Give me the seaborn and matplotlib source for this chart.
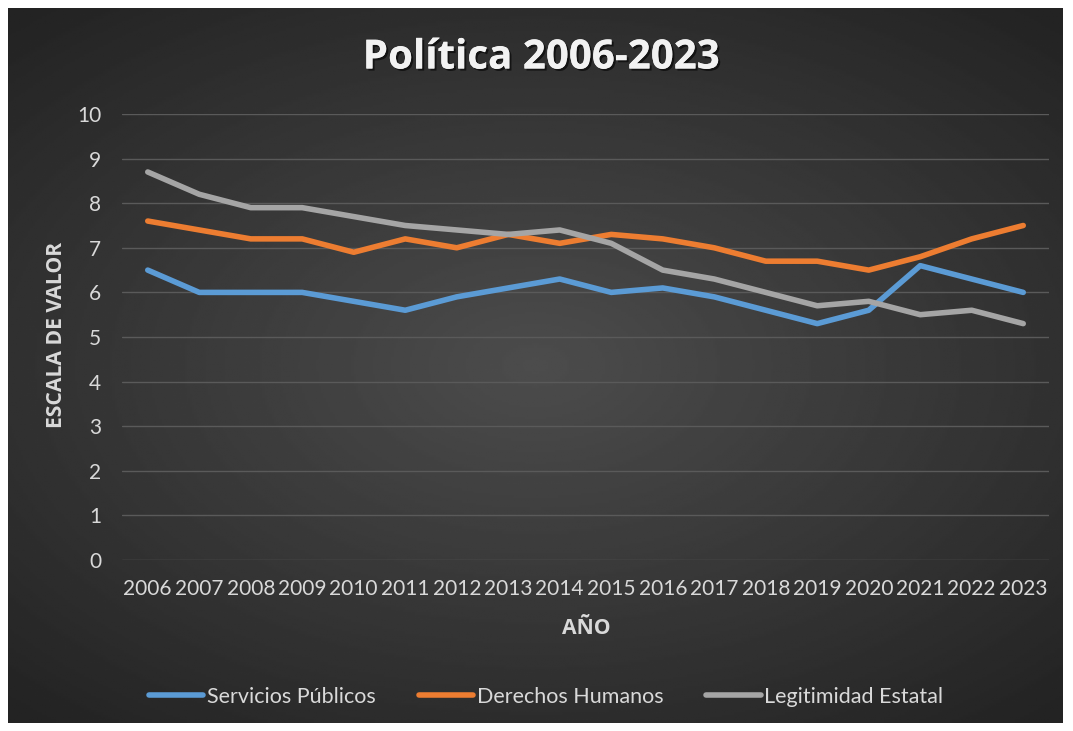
import numpy as np
import pandas as pd
import matplotlib
matplotlib.use("Agg")
import matplotlib.pyplot as plt
import matplotlib.patheffects as pe
import seaborn as sns

years = [str(y) for y in range(2006, 2024)]
servicios = [6.5, 6.0, 6.0, 6.0, 5.8, 5.6, 5.9, 6.1, 6.3, 6.0, 6.1, 5.9, 5.6, 5.3, 5.6, 6.6, 6.3, 6.0]
derechos = [7.6, 7.4, 7.2, 7.2, 6.9, 7.2, 7.0, 7.3, 7.1, 7.3, 7.2, 7.0, 6.7, 6.7, 6.5, 6.8, 7.2, 7.5]
legitimidad = [8.7, 8.2, 7.9, 7.9, 7.7, 7.5, 7.4, 7.3, 7.4, 7.1, 6.5, 6.3, 6.0, 5.7, 5.8, 5.5, 5.6, 5.3]
series_names = ["Servicios Públicos", "Derechos Humanos", "Legitimidad Estatal"]
colors = ["#5B9BD5", "#ED7D31", "#A5A5A5"]

df = pd.DataFrame({"Año": years * 3,
                   "Valor": servicios + derechos + legitimidad,
                   "Serie": sum([[n] * len(years) for n in series_names], [])})

sns.set_theme(style="dark")
plt.rcParams["font.family"] = ["Lato", "DejaVu Sans"]
bold_family = ["Open Sans", "DejaVu Sans"]

W, H = 1073, 731
fig = plt.figure(figsize=(W / 100, H / 100), dpi=100, facecolor="white")

# fondo oscuro con degradado radial
bg = fig.add_axes([8 / W, 8 / H, (1063 - 8) / W, (723 - 8) / H])
yy, xx = np.mgrid[-1:1:300j, -1:1:450j]
r = np.sqrt((xx * 0.85) ** 2 + (yy * 0.95) ** 2)
grad = np.clip(0.30 - 0.13 * r, 0.14, 0.30)
bg.imshow(grad, cmap="gray", vmin=0, vmax=1, aspect="auto", extent=[0, 1, 0, 1])
bg.set_axis_off()

ax = fig.add_axes([122 / W, 1 - 560 / H, (1049 - 122) / W, (560 - 114) / H])
ax.patch.set_alpha(0)
sns.lineplot(data=df, x="Año", y="Valor", hue="Serie", palette=colors, linewidth=4.0,
             ax=ax, legend=False, sort=False,
             solid_capstyle="round", solid_joinstyle="round")

ax.set_ylim(0, 10)
ax.set_xlim(-0.5, len(years) - 0.5)
ax.set_yticks(range(0, 11))
ax.grid(axis="y", color="#5a5a5a", linewidth=1)
ax.grid(axis="x", visible=False)
for s in ax.spines.values():
    s.set_visible(False)
ax.tick_params(colors="#d9d9d9", labelsize=15, length=0)
ax.tick_params(axis="x", pad=14)
ax.tick_params(axis="y", pad=15)
ax.set_xlabel("")
ax.set_ylabel("")

fig.text(57 / W, 1 - 335 / H, "ESCALA DE VALOR", rotation=90, ha="center", va="center",
         color="#d9d9d9", fontsize=15.2, fontweight="bold", family=bold_family)
fig.text(586 / W, 1 - 628 / H, "AÑO", ha="center", va="center",
         color="#d9d9d9", fontsize=15.2, fontweight="bold", family=bold_family)
fig.text(541 / W, 1 - 58 / H, "Política 2006-2023", ha="center", va="center",
         color="#f2f2f2", fontsize=29, fontweight="bold", family=bold_family,
         path_effects=[pe.withSimplePatchShadow(offset=(1.5, -1.5), shadow_rgbFace="black", alpha=0.6),
                       pe.Normal()])

handles = [plt.Line2D([], [], color=c, linewidth=4.0, solid_capstyle="round") for c in colors]
leg = fig.legend(handles, series_names, loc="center", bbox_to_anchor=(546 / W, 1 - 697 / H),
                 ncol=3, frameon=False, fontsize=15.5, handlelength=2.55, columnspacing=2.0,
                 handletextpad=0.15)
for t in leg.get_texts():
    t.set_color("#d9d9d9")

fig.savefig("out.png", dpi=100, facecolor="white")
